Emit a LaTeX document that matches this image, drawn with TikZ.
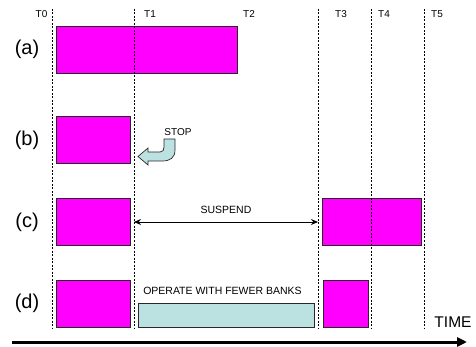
\documentclass[tikz,border=0pt]{standalone}
\usepackage{fontspec}
\setmainfont{Liberation Sans}
\usetikzlibrary{arrows.meta}
\definecolor{barmag}{RGB}{255,0,255}
\definecolor{bankfill}{RGB}{187,225,225}
\definecolor{edgegray}{RGB}{40,40,40}
\tikzset{
  bar/.style={draw=edgegray, line width=0.9pt, fill=barmag, anchor=north west, inner sep=0pt, outer sep=0pt},
  lowbar/.style={draw=edgegray, line width=0.9pt, fill=bankfill, anchor=north west, inner sep=0pt, outer sep=0pt},
  marker/.style={draw=black, line width=0.8pt, dash pattern=on 2pt off 1.5pt},
  tlabel/.style={font=\fontsize{10}{12}\selectfont, inner sep=0pt},
  rowlabel/.style={font=\fontsize{20}{24}\selectfont, inner sep=0pt},
  note/.style={font=\fontsize{10.5}{12}\selectfont, inner sep=0pt},
}
\begin{document}
\begin{tikzpicture}[x=1pt, y=-1pt]
\useasboundingbox (0,0) rectangle (476,347);

% bars for the four cases
\node[bar, minimum width=181pt, minimum height=47pt] (abar) at (56,26) {};
\node[bar, minimum width=74pt, minimum height=47pt] (bbar) at (56,116) {};
\node[bar, minimum width=74pt, minimum height=47pt] (cbar1) at (56,198) {};
\node[bar, minimum width=99pt, minimum height=47pt] (cbar2) at (322,198) {};
\node[bar, minimum width=74pt, minimum height=47pt] (dbar1) at (56,280) {};
\node[bar, minimum width=45pt, minimum height=47pt] (dbar2) at (323,280) {};
\node[lowbar, minimum width=176pt, minimum height=24pt] (dlow) at (138,303) {};

% time markers
\foreach \name/\x in {t0/52, t1/134, t3/318, t4/371, t5/424}{
  \coordinate (\name top) at (\x,9);
  \coordinate (\name bot) at (\x,328);
  \draw[marker] (\name top) -- (\name bot);
}
\node[tlabel] (lt0) at (41.5,14.5) {T0};
\node[tlabel] (lt1) at (150,14.5) {T1};
\node[tlabel] (lt2) at (249,14.5) {T2};
\node[tlabel] (lt3) at (341,14.5) {T3};
\node[tlabel] (lt4) at (384,14.5) {T4};
\node[tlabel] (lt5) at (437,14.5) {T5};

% row labels
\node[rowlabel] (la) at (27,49) {(a)};
\node[rowlabel] (lb) at (27,140) {(b)};
\node[rowlabel] (lc) at (27,222) {(c)};
\node[rowlabel] (ld) at (27,303) {(d)};

% stop arrow
\draw[draw=edgegray, line width=0.7pt, fill=bankfill]
  (164,139) -- (175,139) -- (175,150)
  .. controls (175,158) and (170,161) .. (162,161)
  -- (148,161) -- (148,165) -- (138,156.5) -- (148,148) -- (148,152)
  -- (160,152) .. controls (163,152) and (164,150) .. (164,147) -- cycle;
\node[note, font=\fontsize{10}{12}\selectfont] (stop) at (178,132.5) {STOP};

% suspend interval
\coordinate (s1) at (134,222);
\coordinate (s2) at (318,222);
\draw[line width=0.9pt, {Stealth[length=7pt,width=6pt]}-{Stealth[length=7pt,width=6pt]}] (s1) -- (s2);
\node[note] (susp) at (226,210) {SUSPEND};

\node[note] (fewer) at (222.5,291) {OPERATE WITH FEWER BANKS};

% time axis
\coordinate (ax0) at (12,342);
\coordinate (ax1) at (467,342);
\draw[line width=3pt, -{Triangle[length=10pt,width=9pt]}] (ax0) -- (ax1);
\node[font=\fontsize{15.5}{18}\selectfont, inner sep=0pt] (time) at (453,322) {TIME};
\end{tikzpicture}
\end{document}
